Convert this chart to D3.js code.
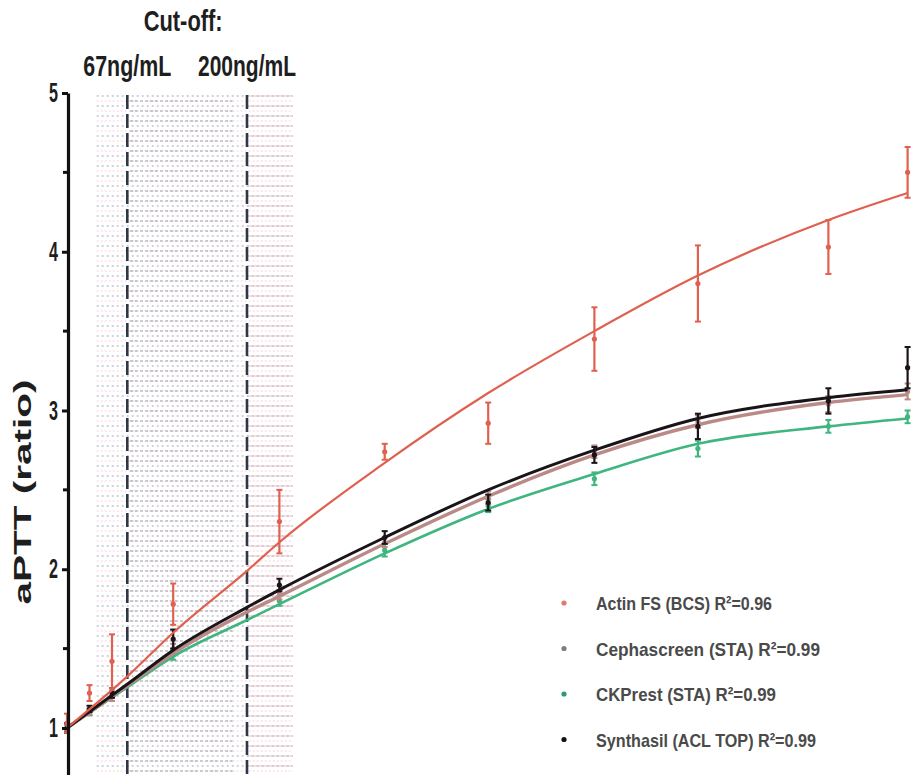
<!DOCTYPE html>
<html>
<head>
<meta charset="utf-8">
<script src="https://cdn.jsdelivr.net/npm/d3@7/dist/d3.min.js"></script>
<style>
  body { margin: 0; background: #fff; }
  svg { display: block; }
  text { font-family: "Liberation Sans", Arial, sans-serif; font-weight: bold; }
</style>
</head>
<body>
<svg id="chart" width="916" height="775"></svg>
<script>
// Drug concentration (ng/mL) of each measured sample
const concentrations = [0, 25, 50, 118, 236, 353, 468, 586, 701, 846, 934];

// Mean aPTT ratio and error per reagent
const actinMean   = [1.03, 1.22, 1.42, 1.78, 2.30, 2.74, 2.92, 3.45, 3.80, 4.03, 4.50];
const actinErr    = [0.06, 0.05, 0.17, 0.13, 0.20, 0.05, 0.13, 0.20, 0.24, 0.17, 0.16];
const cephaMean   = [1.00, 1.10, 1.20, 1.50, 1.84, 2.17, 2.45, 2.74, 2.93, 3.04, 3.12];
const cephaErr    = [0.02, 0.02, 0.03, 0.03, 0.03, 0.03, 0.04, 0.04, 0.04, 0.05, 0.05];
const ckprestMean = [1.00, 1.10, 1.20, 1.46, 1.80, 2.12, 2.40, 2.57, 2.76, 2.90, 2.96];
const ckprestErr  = [0.02, 0.02, 0.03, 0.03, 0.03, 0.04, 0.04, 0.04, 0.05, 0.04, 0.04];
const synthMean   = [1.00, 1.12, 1.22, 1.56, 1.90, 2.20, 2.42, 2.72, 2.90, 3.06, 3.27];
const synthErr    = [0.03, 0.02, 0.03, 0.06, 0.04, 0.04, 0.05, 0.05, 0.08, 0.08, 0.13];

// Fitted curves, sampled along the concentration axis
const fitConc    = [0, 68, 118, 200, 236, 353, 468, 586, 701, 846, 934];
const actinFit   = [1.00, 1.33, 1.60, 1.99, 2.17, 2.67, 3.11, 3.50, 3.85, 4.20, 4.37];
const cephaFit   = [1.00, 1.27, 1.47, 1.73, 1.83, 2.16, 2.46, 2.72, 2.91, 3.05, 3.10];
const ckprestFit = [1.00, 1.26, 1.45, 1.68, 1.78, 2.10, 2.38, 2.60, 2.79, 2.90, 2.95];
const synthFit   = [1.00, 1.28, 1.49, 1.76, 1.87, 2.20, 2.50, 2.75, 2.95, 3.08, 3.13];

// Cut-off concentrations
const cutoffs = [67, 200];
const cutoffLabels = ["67ng/mL", "200ng/mL"];

// Shaded concentration ranges
const bandLow  = [33, 70, 200];
const bandHigh = [251, 184, 251];

// Axis ticks
const yTicks = [1, 2, 3, 4, 5];
const yMinorTicks = [1.5, 2.5, 3.5, 4.5];

// Legend
const legendLabels = [
  "Actin FS (BCS) R\u00B2=0.96",
  "Cephascreen (STA) R\u00B2=0.99",
  "CKPrest (STA) R\u00B2=0.99",
  "Synthasil (ACL TOP) R\u00B2=0.99"
];

const svg = d3.select("#chart");

const x = d3.scaleLinear().domain([0, 200]).range([67, 247]);
const y = d3.scaleLinear().domain([0.7, 5]).range([775.6, 93]);

// ---- shaded ranges (dotted horizontal hatching) ----
const hatchRows = d3.range(y(5) + 3, 775, 10);
const bandStyles = [
  { stroke: "#b9bfcf", dash: "2,3", width: 1.4, offset: 0, opacity: 0.9 },
  { stroke: "#6d7488", dash: "3,2", width: 1.6, offset: 5, opacity: 0.55 },
  { stroke: "#eab3bd", dash: null, width: 1.0, offset: 0, opacity: 0.8 }
];
bandLow.forEach((lo, i) => {
  const st = bandStyles[i];
  svg.append("g")
    .selectAll("line")
    .data(hatchRows)
    .join("line")
    .attr("x1", x(lo))
    .attr("x2", x(bandHigh[i]))
    .attr("y1", d => d + st.offset)
    .attr("y2", d => d + st.offset)
    .attr("stroke", st.stroke)
    .attr("stroke-width", st.width)
    .attr("stroke-dasharray", st.dash)
    .attr("opacity", st.opacity);
});
// faint pink wash across the full shaded span
svg.append("g")
  .selectAll("line")
  .data(hatchRows)
  .join("line")
  .attr("x1", x(bandLow[0]))
  .attr("x2", x(bandHigh[0]))
  .attr("y1", d => d + 5)
  .attr("y2", d => d + 5)
  .attr("stroke", "#f3d3d8")
  .attr("stroke-width", 1)
  .attr("stroke-dasharray", "2,2");

// ---- cut-off lines ----
svg.append("g")
  .selectAll("line")
  .data(cutoffs)
  .join("line")
  .attr("x1", d => x(d))
  .attr("x2", d => x(d))
  .attr("y1", y(5) + 2)
  .attr("y2", 775)
  .attr("stroke", "#2e3648")
  .attr("stroke-width", 2.6)
  .attr("stroke-dasharray", "14,5");

svg.append("g")
  .selectAll("text")
  .data(cutoffs)
  .join("text")
  .attr("x", d => x(d))
  .attr("y", 76)
  .attr("text-anchor", "middle")
  .attr("font-size", 29)
  .attr("fill", "#1e1e1e")
  .attr("textLength", (d, i) => i === 0 ? 88 : 98)
  .attr("lengthAdjust", "spacingAndGlyphs")
  .text((d, i) => cutoffLabels[i]);

svg.append("text")
  .attr("x", (x(cutoffs[0]) + x(cutoffs[1])) / 2 - 4)
  .attr("y", 31)
  .attr("text-anchor", "middle")
  .attr("font-size", 30)
  .attr("fill", "#1e1e1e")
  .attr("textLength", 79)
  .attr("lengthAdjust", "spacingAndGlyphs")
  .text("Cut-off:");

// ---- series ----
const series = [
  { mean: ckprestMean, err: ckprestErr, fit: ckprestFit, color: "#3fb57f", width: 2.6 },
  { mean: cephaMean,   err: cephaErr,   fit: cephaFit,   color: "#b98a86", width: 3.4 },
  { mean: synthMean,   err: synthErr,   fit: synthFit,   color: "#1a1418", width: 3.0 },
  { mean: actinMean,   err: actinErr,   fit: actinFit,   color: "#e0604f", width: 2.2 }
];

const line = d3.line()
  .x((d, i) => x(fitConc[i]))
  .y(d => y(d))
  .curve(d3.curveMonotoneX);

series.forEach(s => {
  const g = svg.append("g");
  g.append("path")
    .attr("d", line(s.fit))
    .attr("fill", "none")
    .attr("stroke", s.color)
    .attr("stroke-width", s.width)
    .attr("stroke-linejoin", "round");

  const pts = g.selectAll("g.pt")
    .data(s.mean)
    .join("g")
    .attr("class", "pt");
  pts.append("line")
    .attr("x1", (d, i) => x(concentrations[i]))
    .attr("x2", (d, i) => x(concentrations[i]))
    .attr("y1", (d, i) => y(d - s.err[i]))
    .attr("y2", (d, i) => y(d + s.err[i]))
    .attr("stroke", s.color)
    .attr("stroke-width", 2.2);
  [-1, 1].forEach(sign => {
    pts.append("line")
      .attr("x1", (d, i) => x(concentrations[i]) - 3)
      .attr("x2", (d, i) => x(concentrations[i]) + 3)
      .attr("y1", (d, i) => y(d + sign * s.err[i]))
      .attr("y2", (d, i) => y(d + sign * s.err[i]))
      .attr("stroke", s.color)
      .attr("stroke-width", 2);
  });
  pts.append("circle")
    .attr("cx", (d, i) => x(concentrations[i]))
    .attr("cy", d => y(d))
    .attr("r", 2.6)
    .attr("fill", s.color);
});

// ---- y axis ----
const yAxis = d3.axisLeft(y)
  .tickValues(yTicks)
  .tickSize(6)
  .tickSizeOuter(0)
  .tickPadding(4)
  .tickFormat(d3.format("d"));

const ax = svg.append("g")
  .attr("transform", "translate(68,0)")
  .call(yAxis);
ax.select(".domain").attr("stroke", "#111").attr("stroke-width", 3.2);
ax.selectAll(".tick line").attr("stroke", "#111").attr("stroke-width", 3);
ax.selectAll(".tick text")
  .attr("font-size", 27)
  .attr("fill", "#1e1e1e")
  .attr("font-family", "'Liberation Sans', Arial, sans-serif")
  .attr("font-weight", "bold")
  .attr("textLength", 9)
  .attr("lengthAdjust", "spacingAndGlyphs");

svg.append("g")
  .selectAll("line")
  .data(yMinorTicks)
  .join("line")
  .attr("x1", 63)
  .attr("x2", 68)
  .attr("y1", d => y(d))
  .attr("y2", d => y(d))
  .attr("stroke", "#111")
  .attr("stroke-width", 3);

svg.append("text")
  .attr("transform", "translate(31,492) rotate(-90)")
  .attr("text-anchor", "middle")
  .attr("font-size", 24)
  .attr("fill", "#1e1e1e")
  .attr("textLength", 225)
  .attr("lengthAdjust", "spacingAndGlyphs")
  .text("aPTT (ratio)");

// ---- legend ----
const legendColors = ["#e07a6e", "#857a80", "#2e9a74", "#141014"];
const legendLengths = [176, 224, 180, 220];
const legendRowY = d3.range(4).map(i => 603 + i * 45.5);
const lg = svg.append("g");
legendLabels.forEach((label, i) => {
  lg.append("circle")
    .attr("cx", 564)
    .attr("cy", legendRowY[i])
    .attr("r", 2.6)
    .attr("fill", legendColors[i]);
  lg.append("text")
    .attr("x", 596)
    .attr("y", legendRowY[i] + 7)
    .attr("font-size", 19)
    .attr("fill", "#4a4a4a")
    .attr("textLength", legendLengths[i])
    .attr("lengthAdjust", "spacingAndGlyphs")
    .text(label);
});
</script>
</body>
</html>
